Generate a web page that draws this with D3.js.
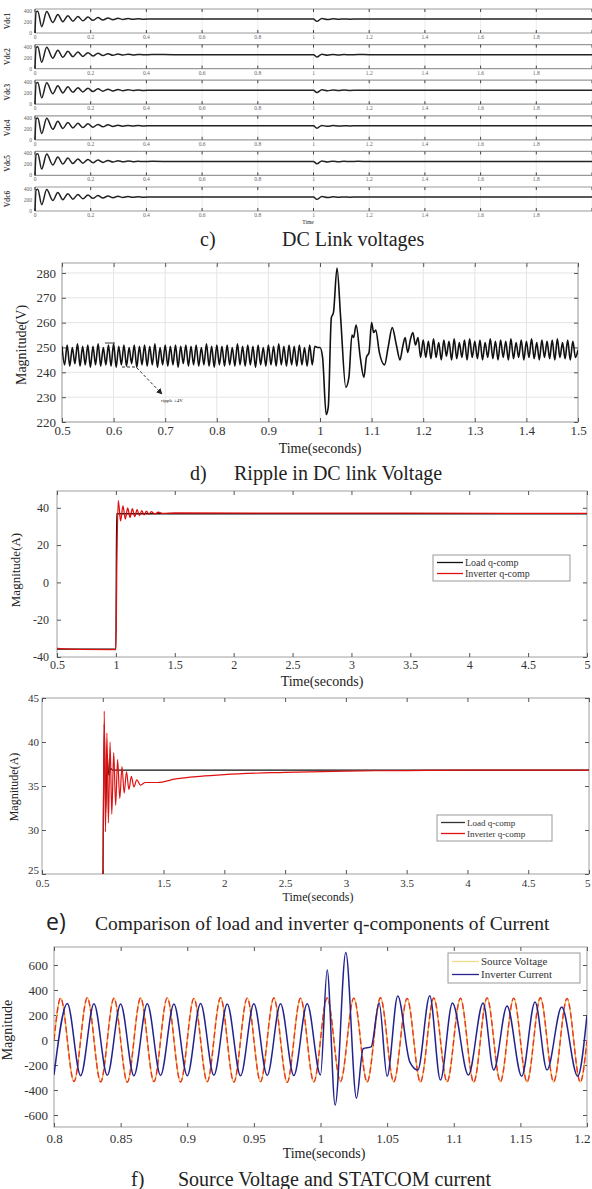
<!DOCTYPE html>
<html>
<head>
<meta charset="utf-8">
<script src="https://cdn.jsdelivr.net/npm/d3@7"></script>
<style>
body { margin: 0; background: #fff; }
svg { display: block; }
</style>
</head>
<body>
<svg id="fig" width="592" height="1189"></svg>
<script>
// ---------- c) DC link voltages (six strips) ----------
var stripLabels = ["Vdc1", "Vdc2", "Vdc3", "Vdc4", "Vdc5", "Vdc6"];
var stripTicksX = [0, 0.2, 0.4, 0.6, 0.8, 1, 1.2, 1.4, 1.6, 1.8, 2];
var stripTicksY = [0, 200, 400];
var dcStart = [[0, 0], [0.004, 380], [0.01, 395], [0.024, 115], [0.042, 390], [0.064, 190],
    [0.082, 335], [0.1, 205], [0.118, 315], [0.136, 215], [0.154, 300], [0.172, 222],
    [0.19, 290], [0.208, 230], [0.226, 280], [0.244, 236], [0.262, 272], [0.28, 242],
    [0.298, 266], [0.316, 246], [0.334, 262], [0.352, 249], [0.37, 258], [0.39, 251],
    [0.42, 255], [0.5, 253], [1.0, 253]];
var dcEvent = [[1.0, 253], [1.012, 212], [1.03, 262], [1.05, 244], [1.07, 258], [1.09, 249],
    [1.11, 256], [1.13, 251], [1.16, 255], [1.2, 253], [2, 253]];

// ---------- d) ripple in DC link voltage ----------
var rippleTicksX = [0.5, 0.6, 0.7, 0.8, 0.9, 1, 1.1, 1.2, 1.3, 1.4, 1.5];
var rippleTicksY = [220, 230, 240, 250, 260, 270, 280];
var rippleStep = 0.005;
var rippleBefore = [
    250.5, 243, 251, 242.5, 250, 243.5, 251.5, 242.5, 250.5, 243,
    251, 242, 250.5, 243, 251.5, 242.5, 250, 243, 251, 242.5,
    251.5, 242, 250.5, 243, 251, 242.5, 250, 243.5, 251, 242,
    250.5, 243, 251, 242.5, 250.5, 243, 251.5, 242, 250, 243,
    251, 242.5, 250.5, 243, 251, 242, 250.5, 243.5, 251, 242.5,
    250.5, 243, 251, 242.5, 250, 243, 251.5, 242.5, 250.5, 242,
    251, 243, 250.5, 242.5, 251, 243, 250, 242.5, 251.5, 243,
    250.5, 242.5, 251, 243, 250.5, 242, 251, 243, 250, 242.5,
    251, 243, 250.5, 242.5, 251.5, 243, 250.5, 242.5, 251, 243,
    250.5, 242.5, 251, 243, 250, 242.5, 251, 243, 250.5, 250];
var rippleEvent = [[1.0, 250], [1.005, 246], [1.012, 223], [1.016, 226], [1.022, 262],
    [1.026, 264], [1.033, 282], [1.04, 262], [1.05, 234], [1.056, 238], [1.062, 255],
    [1.065, 254], [1.07, 259], [1.078, 246], [1.085, 238], [1.09, 246], [1.095, 248],
    [1.1, 260], [1.104, 256], [1.108, 257], [1.115, 248], [1.125, 243], [1.132, 250],
    [1.14, 258], [1.148, 251], [1.155, 245], [1.16, 250], [1.165, 254], [1.17, 248],
    [1.175, 253], [1.18, 256], [1.185, 251], [1.19, 254], [1.195, 246]];
var rippleAfter = [
    253, 246, 252.5, 245.5, 253.5, 246, 252, 245, 253, 246.5,
    252.5, 245, 253.5, 245.5, 252, 246, 253, 245, 253.5, 246,
    252.5, 245.5, 253, 245, 252, 246, 253.5, 245.5, 252.5, 245,
    253, 246, 252.5, 245, 253.5, 245.5, 252, 246, 253, 245,
    252.5, 246, 253.5, 245.5, 252, 245, 253, 246, 252.5, 245.5,
    253, 245, 253.5, 246, 252, 245.5, 253, 245, 252.5, 246, 249];

// ---------- e) q-components ----------
var qTicksX = [0.5, 1, 1.5, 2, 2.5, 3, 3.5, 4, 4.5, 5];
var qTopTicksY = [-40, -20, 0, 20, 40];
var qBotTicksY = [25, 30, 35, 40, 45];
var qSeries = ["Load q-comp", "Inverter q-comp"];
var loadTop = [[0.5, -35.8], [1.0, -35.8], [1.006, 36.8], [5, 36.8]];
var invTop = [[0.5, -35.4], [0.7, -35.9], [1.0, -36], [1.008, 10], [1.02, 44], [1.04, 33],
    [1.06, 41], [1.08, 34], [1.1, 40], [1.12, 34.8], [1.14, 39.5], [1.16, 35.3], [1.18, 39],
    [1.2, 35.8], [1.22, 38.5], [1.24, 36.2], [1.26, 38.2], [1.28, 36.5], [1.3, 37.9],
    [1.33, 36.7], [1.36, 37.6], [1.4, 37], [1.5, 37.2], [5, 37]];
var loadBot = [[1.0, 20], [1.012, 42], [1.024, 32], [1.036, 38.5], [1.05, 36.2],
    [1.065, 37], [1.08, 36.8], [5, 36.8]];
var invBot = [[1.0, 20], [1.012, 43.5], [1.022, 29.8], [1.034, 41], [1.046, 30.8],
    [1.06, 40], [1.074, 31.8], [1.09, 38.8], [1.106, 32.8], [1.122, 38], [1.14, 33.6],
    [1.158, 37.2], [1.176, 34.2], [1.195, 36.6], [1.215, 34.6], [1.235, 36.1], [1.256, 34.9],
    [1.28, 35.7], [1.31, 35.1], [1.35, 35.4], [1.45, 35.4], [1.6, 35.8], [1.8, 36.1],
    [2.0, 36.3], [2.5, 36.55], [3, 36.7], [3.5, 36.75], [4, 36.8], [5, 36.8]];

// ---------- f) source voltage and STATCOM current ----------
var fTicksX = [0.8, 0.85, 0.9, 0.95, 1, 1.05, 1.1, 1.15, 1.2];
var fTicksY = [-600, -400, -200, 0, 200, 400, 600];
var fSeries = ["Source Voltage", "Inverter Current"];
var sourceStart = 0.805, sourceStep = 0.01;
var sourcePeaks = [
    335, -332, 338, -335, 334, -338, 336, -333, 337, -336,
    333, -334, 338, -337, 335, -333, 336, -338, 334, -335,
    337, -332, 335, -336, 338, -334, 333, -337, 336, -335,
    334, -338, 337, -333, 335, -336, 338, -334, 333, -337];
var inverterCurrent = [[0.8, -280], [0.81, 292], [0.82, -285], [0.83, 290], [0.84, -282],
    [0.85, 288], [0.86, -286], [0.87, 291], [0.88, -283], [0.89, 289], [0.9, -285],
    [0.91, 292], [0.92, -282], [0.93, 288], [0.94, -286], [0.95, 290], [0.96, -283],
    [0.97, 291], [0.98, -284], [0.99, 290], [1.0, -280], [1.005, 560], [1.011, -520],
    [1.019, 700], [1.027, -465], [1.032, -70], [1.038, -55], [1.044, 296], [1.05, -290],
    [1.058, 352], [1.067, -175], [1.073, -240], [1.082, 355], [1.09, -320], [1.099, 296],
    [1.111, -280], [1.122, 296], [1.13, -240], [1.14, 272], [1.151, -290], [1.161, 304],
    [1.17, -240], [1.181, 264], [1.193, -290], [1.2, 200]];

// ---------- drawing ----------
var svg = d3.select("#fig");
var serif = "'Liberation Serif', 'Times New Roman', serif";
svg.append("rect").attr("width", 592).attr("height", 1189).attr("fill", "#fff");

var line = (x, y) => d3.line().x(d => x(d[0])).y(d => y(d[1])).curve(d3.curveMonotoneX);
var clipId = 0;
function clip(x, y) {
    var id = "clip" + (clipId++);
    svg.append("clipPath").attr("id", id).append("rect")
        .attr("x", x.range()[0]).attr("y", y.range()[1])
        .attr("width", x.range()[1] - x.range()[0]).attr("height", y.range()[0] - y.range()[1]);
    return "url(#" + id + ")";
}

function axes(x, y, o) {
    var g = svg.append("g");
    var x0 = x.range()[0], x1 = x.range()[1], yb = y.range()[0], yt = y.range()[1];
    if (o.grid) {
        g.append("g").selectAll("line").data(o.xTicks).join("line")
            .attr("x1", d => x(d)).attr("x2", d => x(d)).attr("y1", yt).attr("y2", yb)
            .attr("stroke", "#e4e4e4");
        g.append("g").selectAll("line").data(o.yTicks).join("line")
            .attr("y1", d => y(d)).attr("y2", d => y(d)).attr("x1", x0).attr("x2", x1)
            .attr("stroke", "#e4e4e4");
    }
    g.append("rect").attr("x", x0).attr("y", yt).attr("width", x1 - x0).attr("height", yb - yt)
        .attr("fill", "none").attr("stroke", "#a0a0a0");
    var style = s => s.attr("font-family", serif).attr("font-size", o.fs)
        .call(s => s.select(".domain").remove())
        .call(s => s.selectAll(".tick line").attr("stroke", "#555"))
        .call(s => s.selectAll("text").attr("fill", "#333"));
    var bottom = g.append("g").attr("transform", `translate(0,${yb})`)
        .call(d3.axisBottom(x).tickValues(o.xTicks).tickSize(-4).tickPadding(o.xPad)
            .tickFormat(o.xFormat || (d => d)))
        .call(style);
    // keep the last label inside the page
    bottom.selectAll(".tick text").filter(d => x(d) > 580)
        .attr("text-anchor", "end").attr("dx", d => 590 - x(d));
    g.append("g").attr("transform", `translate(0,${yt})`)
        .call(d3.axisTop(x).tickValues(o.xTicks).tickSize(-4).tickFormat(""))
        .call(style);
    var left = g.append("g").attr("transform", `translate(${x0},0)`)
        .call(d3.axisLeft(y).tickValues(o.yTicks).tickSize(-4).tickPadding(o.yPad)
            .tickFormat(d => d))
        .call(style);
    if (o.lowLift) left.selectAll(".tick text").filter(d => d === y.domain()[0]).attr("y", -o.lowLift);
    g.append("g").attr("transform", `translate(${x1},0)`)
        .call(d3.axisRight(y).tickValues(o.yTicks).tickSize(-4).tickFormat(""))
        .call(style);
}

function label(text, x, y, fs, rot, anchor) {
    svg.append("text").attr("transform", `translate(${x},${y})` + (rot ? " rotate(-90)" : ""))
        .attr("text-anchor", anchor || "middle").attr("font-family", serif)
        .attr("font-size", fs).attr("fill", "#222").text(text);
}

function legend(x, y, w, rowH, names, colors, fs, lineW) {
    var g = svg.append("g");
    g.append("rect").attr("x", x).attr("y", y).attr("width", w).attr("height", rowH * names.length + 4)
        .attr("fill", "#fff").attr("stroke", "#999");
    names.forEach(function (n, i) {
        var cy = y + 2 + rowH * (i + 0.5);
        g.append("line").attr("x1", x + 4).attr("x2", x + 4 + lineW).attr("y1", cy).attr("y2", cy)
            .attr("stroke", colors[i]).attr("stroke-width", 1.3);
        g.append("text").attr("x", x + 6 + lineW).attr("y", cy).attr("dy", "0.35em")
            .attr("font-family", serif).attr("font-size", fs).attr("fill", "#333").text(n);
    });
}

// c) strips
var sx = d3.scaleLinear().domain([0, 2]).range([35, 592]);
stripLabels.forEach(function (lab, i) {
    var top = 9 + i * 35.6, bottom = top + 24;
    var sy = d3.scaleLinear().domain([0, 436]).range([bottom, top]);
    var g = svg.append("g");
    g.append("g").selectAll("line").data(stripTicksX).join("line")
        .attr("x1", d => sx(d)).attr("x2", d => sx(d)).attr("y1", top).attr("y2", bottom)
        .attr("stroke", "#ececec");
    g.append("line").attr("x1", 35).attr("x2", 592).attr("y1", top).attr("y2", top)
        .attr("stroke", "#999").attr("stroke-width", 1.2);
    g.append("line").attr("x1", 35).attr("x2", 592).attr("y1", bottom).attr("y2", bottom)
        .attr("stroke", "#999").attr("stroke-width", 1.2);
    g.append("line").attr("x1", 35).attr("x2", 35).attr("y1", top).attr("y2", bottom)
        .attr("stroke", "#999");
    g.append("g").selectAll("path").data(stripTicksX).join("path")
        .attr("d", d => `M${sx(d)},${top}v3M${sx(d)},${bottom}v-3`)
        .attr("stroke", "#444");
    g.append("g").selectAll("text").data(stripTicksX.slice(0, -1)).join("text")
        .attr("x", d => sx(d)).attr("y", bottom + 6).attr("text-anchor", "middle")
        .attr("font-family", serif).attr("font-size", 5.5).attr("fill", "#666").text(d => d);
    g.append("g").selectAll("text").data(stripTicksY).join("text")
        .attr("x", 32).attr("y", d => sy(d)).attr("dy", "0.35em").attr("text-anchor", "end")
        .attr("font-family", serif).attr("font-size", 5.5).attr("fill", "#666").text(d => d);
    g.append("text").attr("transform", `translate(10,${(top + bottom) / 2}) rotate(-90)`)
        .attr("text-anchor", "middle").attr("font-family", serif).attr("font-size", 7.5)
        .attr("font-weight", "bold").attr("fill", "#444").text(lab);
    g.append("path").datum(dcStart.concat(dcEvent))
        .attr("d", d3.line().x(d => sx(d[0])).y(d => sy(d[1])).curve(d3.curveMonotoneX))
        .attr("fill", "none").attr("stroke", "#222").attr("stroke-width", 1.5);
});
label("Time", 308, 224, 5.5, false, "middle");
label("c)", 200, 246, 20, false, "start");
label("DC Link voltages", 282, 246, 20, false, "start");

// d) ripple
var dx = d3.scaleLinear().domain([0.5, 1.5]).range([62, 578]);
var dy = d3.scaleLinear().domain([220, 284]).range([422, 263]);
axes(dx, dy, { xTicks: rippleTicksX, yTicks: rippleTicksY, fs: 13, xPad: 4, yPad: 6, grid: true });
var ripplePts = rippleBefore.map((v, i) => [0.5 + i * rippleStep, v])
    .concat(rippleEvent)
    .concat(rippleAfter.map((v, i) => [1.2 + i * rippleStep, v]));
svg.append("path").datum(ripplePts).attr("clip-path", clip(dx, dy))
    .attr("d", line(dx, dy)).attr("fill", "none").attr("stroke", "#111").attr("stroke-width", 1.6);
svg.append("defs").append("marker").attr("id", "arr").attr("viewBox", "0 0 10 10")
    .attr("refX", 9).attr("refY", 5).attr("markerWidth", 6).attr("markerHeight", 6)
    .attr("orient", "auto").append("path").attr("d", "M0,0L10,5L0,10z").attr("fill", "#222");
svg.append("path").attr("d", "M105,343H115").attr("stroke", "#333");
svg.append("path").attr("d", "M122,367H136L162,394").attr("fill", "none").attr("stroke", "#333")
    .attr("stroke-dasharray", "3,2").attr("marker-end", "url(#arr)");
label("ripple ±4V", 172, 402, 5, false, "middle");
label("Time(seconds)", 320, 453, 14);
label("Magnitude(V)", 26, 345, 14, true);
label("d)", 190, 480, 20, false, "start");
label("Ripple in DC link Voltage", 234, 480, 20, false, "start");

// e) top
var ex = d3.scaleLinear().domain([0.5, 5]).range([57, 587]);
var ey = d3.scaleLinear().domain([-40, 49]).range([657, 491]);
axes(ex, ey, { xTicks: qTicksX, yTicks: qTopTicksY, fs: 12, xPad: 3, yPad: 8 });
var ec = clip(ex, ey);
svg.append("path").datum(loadTop).attr("clip-path", ec).attr("d", line(ex, ey))
    .attr("fill", "none").attr("stroke", "#111").attr("stroke-width", 1.3);
svg.append("path").datum(invTop).attr("clip-path", ec).attr("d", line(ex, ey))
    .attr("fill", "none").attr("stroke", "#e01010").attr("stroke-width", 1.3);
legend(433, 555, 137, 11, qSeries, ["#111", "#e01010"], 10, 26);
label("Time(seconds)", 322, 686, 14);
label("Magnitude(A)", 20, 570, 13, true);

// e) bottom
var bx = d3.scaleLinear().domain([0.5, 5]).range([42, 589]);
var by = d3.scaleLinear().domain([25, 45]).range([874, 698]);
axes(bx, by, { xTicks: qTicksX, yTicks: qBotTicksY, fs: 11, xPad: 5, yPad: 3, lowLift: 4,
    xFormat: d => (d === 1 ? "" : d) });
var bc = clip(bx, by);
svg.append("path").datum(loadBot).attr("clip-path", bc).attr("d", line(bx, by))
    .attr("fill", "none").attr("stroke", "#111").attr("stroke-width", 1.2);
svg.append("path").datum(invBot).attr("clip-path", bc).attr("d", line(bx, by))
    .attr("fill", "none").attr("stroke", "#e01010").attr("stroke-width", 1.2);
legend(437, 815, 115, 11, qSeries, ["#333", "#e01010"], 9, 24);
label("Time(seconds)", 318, 901, 12);
label("Magnitude(A)", 18, 787, 12, true);
label("Comparison of load and inverter q-components of Current", 95, 930, 19.5, false, "start");
svg.append("text").attr("x", 46).attr("y", 930).attr("font-family", "'Open Sans', sans-serif")
    .attr("font-size", 23).attr("fill", "#222").text("e)");

// f)
var fx = d3.scaleLinear().domain([0.8, 1.2]).range([54, 587]);
var fy = d3.scaleLinear().domain([-696, 744]).range([1127, 947]);
axes(fx, fy, { xTicks: fTicksX, yTicks: fTicksY, fs: 13, xPad: 7, yPad: 6 });
var fc = clip(fx, fy);
var sourcePts = [[0.8, 0]].concat(sourcePeaks.map((v, i) => [sourceStart + i * sourceStep, v]))
    .concat([[1.2, 0]]);
svg.append("path").datum(sourcePts).attr("clip-path", fc).attr("d", line(fx, fy))
    .attr("fill", "none").attr("stroke", "#f2b13c").attr("stroke-width", 1.4);
svg.append("path").datum(sourcePts).attr("clip-path", fc).attr("d", line(fx, fy))
    .attr("fill", "none").attr("stroke", "#e8352c").attr("stroke-width", 1.4)
    .attr("stroke-dasharray", "6,3");
svg.append("path").datum(inverterCurrent).attr("clip-path", fc).attr("d", line(fx, fy))
    .attr("fill", "none").attr("stroke", "#23238f").attr("stroke-width", 1.5);
legend(448, 953, 132, 13, fSeries, ["#f4dc8a", "#23238f"], 11, 27);
label("Time(seconds)", 324, 1158, 14);
label("Magnitude", 12, 1030, 14, true);
label("f)", 131, 1186, 20, false, "start");
label("Source Voltage and STATCOM current", 178, 1186, 20, false, "start");
</script>
</body>
</html>
